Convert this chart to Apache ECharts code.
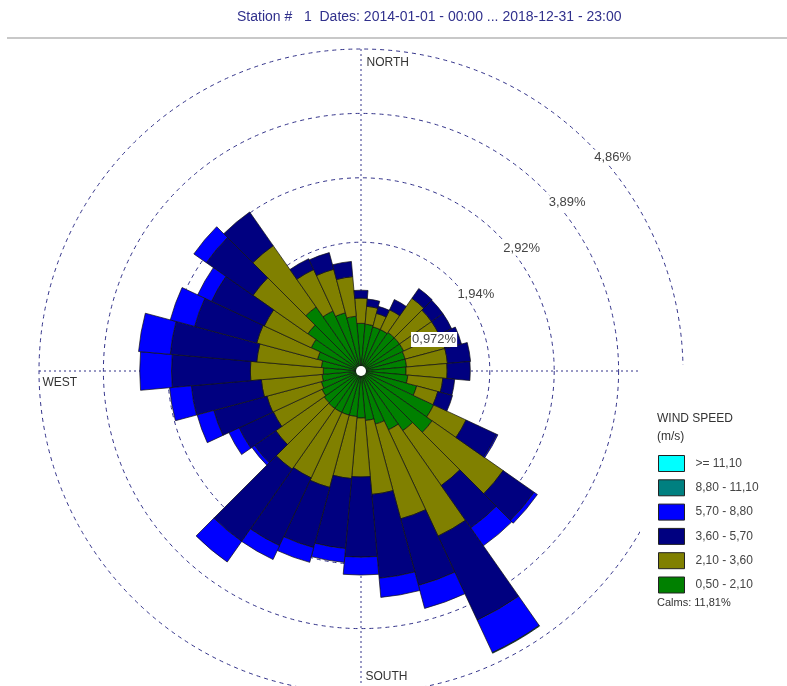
<!DOCTYPE html>
<html>
<head>
<meta charset="utf-8">
<title>Wind rose</title>
<script src="https://cdn.jsdelivr.net/npm/echarts@6/dist/echarts.min.js"></script>
<style>
	html, body { margin: 0; padding: 0; background: #fff; }
	#show { width: 787px; height: 686px; }
</style>
</head>
<body>
<div id="show"></div>
<script>
	// directions (deg), one 10 degree sector each
	var dirs = ['0', '10', '20', '30', '40', '50', '60', '70', '80', '90', '100', '110',
		'120', '130', '140', '150', '160', '170', '180', '190', '200', '210', '220', '230',
		'240', '250', '260', '270', '280', '290', '300', '310', '320', '330', '340', '350'];

	// frequency (%) per speed class, stacked from the centre outwards
	var spd050 = [.72, .71, .69, .69, .71, .71, .71, .69, .69, .68, .71, .87, 1.21, 1.31, 1.10, .98, .83, .75,
		.71, .69, .69, .69, .69, .68, .65, .62, .59, .57, .60, .68, .83, .98, 1.18, 1.00, .91, .83];
	var spd210 = [.38, .27, .21, .33, .63, .59, .59, .62, .62, .62, .53, .33, .54, 1.31, 1.01, 1.77, 1.48, 1.12,
		.89, .94, 1.13, 1.09, 1.12, .89, .81, .85, .92, 1.10, .98, .95, .78, 1.01, 1.13, .69, .68, .60];
	var spd360 = [.12, .11, .11, .17, .18, .21, .21, .26, .35, .35, .18, .23, .51, .57, .78, 1.40, 1.04, 1.27,
		1.21, 1.06, .94, 1.13, 1.33, .39, .57, .83, 1.06, 1.19, 1.31, .97, .88, .86, .62, .18, .26, .23];
	var spd570 = [0, 0, 0, 0, 0, 0, 0, 0, 0, 0, 0, 0, .02, .06, .33, .54, .36, .29,
		.27, .21, .23, .23, .38, .05, .17, .26, .33, .48, .48, .38, .23, .23, 0, 0, 0, 0];
	var spd880 = [0, 0, 0, 0, 0, 0, 0, 0, 0, 0, 0, 0, 0, 0, 0, .01, 0, 0,
		0, 0, 0, 0, 0, 0, 0, 0, 0, 0, 0, 0, 0, 0, 0, 0, 0, 0];
	var spd1110 = [0, 0, 0, 0, 0, 0, 0, 0, 0, 0, 0, 0, 0, 0, 0, 0, 0, 0,
		0, 0, 0, 0, 0, 0, 0, 0, 0, 0, 0, 0, 0, 0, 0, 0, 0, 0];

	var classNames = ['0,50 - 2,10', '2,10 - 3,60', '3,60 - 5,70', '5,70 - 8,80', '8,80 - 11,10', '>= 11,10'];
	var classColors = ['#008000', '#808000', '#000080', '#0000ff', '#008080', '#00ffff'];
	var classData = [spd050, spd210, spd360, spd570, spd880, spd1110];

	// rings
	var ringTicks = [0.972, 1.94, 2.92, 3.89, 4.86];
	var ringLabels = ['0,972%', '1,94%', '2,92%', '3,89%', '4,86%'];
	var ringMax = 4.86;

	var titleText = 'Station #   1  Dates: 2014-01-01 - 00:00 ... 2018-12-31 - 23:00';
	var calmsText = 'Calms: 11,81%';

	var CENTER = [361, 371];
	var RADIUS = 322;

	var myEchart = echarts.init(document.getElementById('show'));

	// stacked bars
	var seriesData = [];
	for (var i = 0; i < classData.length; i++) {
		seriesData.push({
			name: classNames[i],
			type: 'bar',
			coordinateSystem: 'polar',
			polarIndex: 0,
			stack: 'wind',
			barCategoryGap: '0%',
			silent: true,
			data: classData[i].map(function(v) { return v > 0 ? v : '-'; }),
			itemStyle: {
				color: classColors[i],
				borderColor: '#111',
				borderWidth: 0.7
			}
		});
	}

	// ring labels, along the NE diagonal
	seriesData.push({
		type: 'scatter',
		coordinateSystem: 'polar',
		polarIndex: 1,
		symbolSize: 1,
		silent: true,
		z: 5,
		itemStyle: { color: 'rgba(0,0,0,0)', opacity: 1 },
		data: ringTicks.map(function(v, i) {
			return { name: ringLabels[i], value: [v, 45] };
		}),
		label: {
			show: true,
			formatter: '{b}',
			position: [5, 7],
			fontSize: 13,
			color: '#444',
			backgroundColor: '#fff',
			padding: [1, 1]
		}
	});

	// compass words
	seriesData.push({
		type: 'scatter',
		coordinateSystem: 'polar',
		polarIndex: 1,
		symbolSize: 1,
		silent: true,
		z: 5,
		itemStyle: { color: 'rgba(0,0,0,0)', opacity: 1 },
		data: [
			{ name: 'NORTH', value: [ringMax, 0], label: { position: [6, 8] } },
			{ name: 'WEST', value: [ringMax, 270], label: { position: [4, 6] } },
			{ name: 'SOUTH', value: [ringMax, 180], label: { position: [5, -22] } }
		],
		label: {
			show: true,
			formatter: '{b}',
			fontSize: 12,
			color: '#333'
		}
	});

	var gridColor = '#33338a';

	var optionRose = {
		animation: false,
		backgroundColor: '#fff',
		textStyle: { fontFamily: 'Arial' },
		title: [{
			text: titleText,
			left: 237,
			top: 10,
			padding: 0,
			textStyle: { fontSize: 14, fontWeight: 'normal', color: '#30308c' }
		}, {
			text: 'WIND SPEED\n(m/s)',
			left: 657,
			top: 410,
			padding: 0,
			textStyle: { fontSize: 12, fontWeight: 'normal', color: '#333', lineHeight: 18 }
		}, {
			text: calmsText,
			left: 657,
			top: 597,
			padding: 0,
			textStyle: { fontSize: 11, fontWeight: 'normal', color: '#333' }
		}],
		legend: {
			orient: 'vertical',
			left: 658,
			top: 455,
			padding: 0,
			itemWidth: 26,
			itemHeight: 16,
			itemGap: 7.3,
			icon: 'rect',
			selectedMode: false,
			itemStyle: { borderColor: '#222', borderWidth: 1 },
			textStyle: { fontSize: 12, color: '#444', padding: [0, 0, 0, 6] },
			data: classNames.slice().reverse()
		},
		polar: [
			{ center: CENTER, radius: [0, RADIUS] },
			{ center: CENTER, radius: [0, RADIUS] }
		],
		angleAxis: [{
			polarIndex: 0,
			type: 'category',
			data: dirs,
			startAngle: 95,
			clockwise: true,
			boundaryGap: true,
			axisLine: { show: false },
			axisTick: { show: false },
			axisLabel: { show: false },
			splitLine: { show: false }
		}, {
			polarIndex: 1,
			type: 'value',
			min: 0,
			max: 360,
			interval: 90,
			startAngle: 90,
			clockwise: true,
			axisLine: { show: false },
			axisTick: { show: false },
			axisLabel: { show: false },
			splitLine: { show: true, lineStyle: { color: gridColor, width: 1, type: [2, 3] } }
		}],
		radiusAxis: [{
			polarIndex: 0,
			type: 'value',
			min: 0,
			max: ringMax,
			interval: 0.972,
			axisLine: { show: false },
			axisTick: { show: false },
			axisLabel: { show: false },
			splitLine: { show: false }
		}, {
			polarIndex: 1,
			type: 'value',
			min: 0,
			max: ringMax,
			interval: 0.972,
			axisLine: { show: false },
			axisTick: { show: false },
			axisLabel: { show: false },
			splitLine: { show: true, lineStyle: { color: gridColor, width: 1, type: [4, 4] } }
		}],
		graphic: [{
			type: 'line',
			shape: { x1: 7, y1: 38, x2: 787, y2: 38 },
			style: { stroke: '#c8c8c8', lineWidth: 2 }
		}, {
			// legend panel hides the grid behind it
			type: 'rect',
			z: 1,
			shape: { x: 640, y: 365, width: 147, height: 321 },
			style: { fill: '#fff' }
		}, {
			type: 'circle',
			z: 10,
			shape: { cx: CENTER[0], cy: CENTER[1], r: 5 },
			style: { fill: '#fff' }
		}],
		series: seriesData
	};

	myEchart.setOption(optionRose);
</script>
</body>
</html>
